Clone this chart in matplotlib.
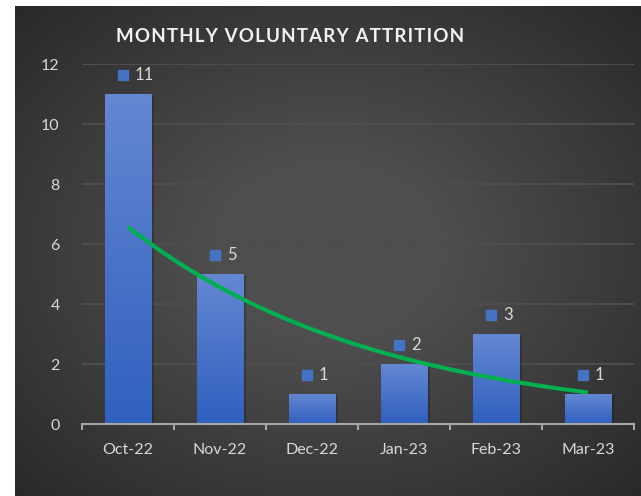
import numpy as np
import matplotlib
matplotlib.use("Agg")
import matplotlib.pyplot as plt
from matplotlib.transforms import offset_copy
from matplotlib.colors import LinearSegmentedColormap

months = ["Oct-22", "Nov-22", "Dec-22", "Jan-23", "Feb-23", "Mar-23"]
attrition = [11, 5, 1, 2, 3, 1]
y_ticks = [0, 2, 4, 6, 8, 10, 12]
title = "MONTHLY VOLUNTARY ATTRITION"

plt.rcParams['font.family'] = ['Lato', 'DejaVu Sans']

W, H = 641, 496
fig = plt.figure(figsize=(W / 100, H / 100), dpi=100)
fig.patch.set_facecolor("white")

# dark background panel with radial gradient
bg = fig.add_axes([15 / W, 0, 1 - 15 / W, (H - 6) / H])
bg.set_axis_off()
yy, xx = np.mgrid[0:1:300j, 0:1:400j]
r = np.sqrt(((xx - 0.5) / 0.75) ** 2 + ((yy - 0.5) / 0.75) ** 2)
shade = np.clip(1 - r, 0, 1)
bg_cmap = LinearSegmentedColormap.from_list("bg", ["#262626", "#4e4e4e"])
bg.imshow(shade, cmap=bg_cmap, aspect="auto", extent=[0, 1, 0, 1], vmin=0, vmax=0.75)
bg.set_xlim(0, 1)
bg.set_ylim(0, 1)

ax = fig.add_axes([82 / W, (H - 424) / H, (634 - 82) / W, (424 - 64) / H])
ax.patch.set_alpha(0)

x = np.arange(len(months))
bars = ax.bar(x, attrition, width=0.51, color="#4472C4", zorder=3)
bar_cmap = LinearSegmentedColormap.from_list("bar", ["#3060bf", "#6487d2"])
grad = np.linspace(0, 1, 100).reshape(-1, 1)
for b in bars:
    bx, by = b.get_x(), b.get_y()
    bw, bh = b.get_width(), b.get_height()
    ax.bar(bx + bw / 2 + 0.025, bh, width=bw, bottom=-0.04, color="black",
           alpha=0.22, zorder=2)
    im = ax.imshow(grad, cmap=bar_cmap, origin="lower", aspect="auto",
                   extent=[bx, bx + bw, by, by + bh], zorder=3)
    im.set_clip_path(b)

# exponential trendline (least squares on log values)
xs = x + 1
b1, a1 = np.polyfit(xs, np.log(attrition), 1)
xt = np.linspace(1, 6, 200)
ax.plot(xt - 1, np.exp(a1) * np.exp(b1 * xt), color="#00B050", lw=3,
        zorder=4, solid_capstyle="butt")

# data labels: small legend key square + value
for xi, v in zip(x, attrition):
    tr_sq = offset_copy(ax.transData, fig=fig, x=-5.5, y=19, units="dots")
    tr_tx = offset_copy(ax.transData, fig=fig, x=7, y=19, units="dots")
    ax.plot([xi], [v], marker="s", ms=7.5, color="#4472C4", mec="#4472C4",
            transform=tr_sq, zorder=5, clip_on=False)
    ax.text(xi, v, str(v), transform=tr_tx, color="#D9D9D9", fontsize=12,
            ha="left", va="center", zorder=5)

ax.set_xlim(-0.5, len(months) - 0.5)
ax.set_ylim(0, 12)
ax.set_yticks(y_ticks)
ax.set_xticks(x)
ax.set_xticklabels(months)
ax.set_xticks(np.arange(-0.5, len(months)), minor=True)
ax.tick_params(axis="x", which="major", length=0, pad=14, colors="#D9D9D9",
               labelsize=11.5)
ax.tick_params(axis="x", which="minor", length=4, width=1.5, color="#A6A6A6",
               direction="out")
ax.tick_params(axis="y", length=0, pad=16, colors="#D9D9D9", labelsize=11.5)
ax.grid(axis="y", color="#4d4d4d", lw=1.5, zorder=0)
ax.set_axisbelow(True)
for s in ["top", "right", "left"]:
    ax.spines[s].set_visible(False)
ax.spines["bottom"].set_color("#A6A6A6")
ax.spines["bottom"].set_linewidth(1.5)
ax.spines["bottom"].set_zorder(6)

fig.text(290 / W, 1 - 37 / H, "\u200a".join(title), color="#F2F2F2",
         fontsize=13.5, fontweight="bold", ha="center", va="center")

fig.savefig("out.png", dpi=100, facecolor=fig.get_facecolor())
